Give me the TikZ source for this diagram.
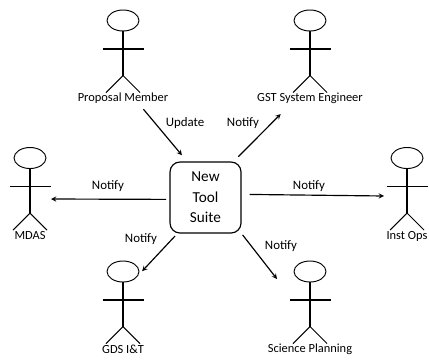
\documentclass[tikz,border=0pt]{standalone}
\usepackage{fontspec}
\setmainfont{Carlito}
\usetikzlibrary{shapes.geometric,arrows}
\tikzset{
    flow/.style={line width=1pt,-stealth},
    stick/.style={line width=0.9pt},
    actorhead/.style={draw,line width=0.8pt,ellipse,minimum width=0.96cm,minimum height=0.63cm,inner sep=0},
    actorname/.style={inner sep=0,font=\fontsize{10.6}{12}\selectfont},
    flowname/.style={inner sep=0,font=\fontsize{11}{12}\selectfont},
    toolbox/.style={draw,line width=1pt,rounded corners=0.3cm,minimum width=2.13cm,minimum height=2.13cm,align=center,font=\fontsize{13}{17.5}\selectfont}
}
\newcommand{\actor}[4]{
    \begin{scope}[shift = {(#2,#3)}]
        \node[actorhead] (#1head) at (0,0) {};
        \draw[stick] (#1head) to (0,55);
        \draw[stick] (-20.5,28.5) to (20.5,28.5);
        \draw[stick] (-17,72) to (0,55) to (17,72);
        \node[actorname] (#1name) at (0,78) {#4};
    \end{scope}
}

\begin{document}
\begin{tikzpicture}[x=0.03cm,y=-0.03cm]
        \useasboundingbox (0,0) rectangle (429,360);

        \node[toolbox] (suite) at (205.5,197.5) {New\\Tool\\Suite};

        \actor{proposal}{123}{20.5}{Proposal Member}
        \actor{gst}{310}{20.5}{GST System Engineer}
        \actor{mdas}{30}{158}{MDAS}
        \actor{inst}{407}{158}{Inst Ops}
        \actor{gds}{123}{271.5}{GDS I\&T}
        \actor{science}{310}{271.5}{Science Planning}

        \coordinate (mdasin) at (51,199);
        \coordinate (instin) at (384,196);
        \coordinate (sciencein) at (277,279);

        \draw[flow,shorten <=0.2cm,shorten >=0.24cm] (proposalname.341) to (suite.117.5);
        \draw[flow,shorten <=0.2cm,shorten >=0.42cm] (suite.52) to (gstname.196);
        \draw[flow,shorten <=0.1cm] (suite.183) to (mdasin);
        \draw[flow,shorten <=0.24cm] (suite.5.8) to (instin);
        \draw[flow,shorten <=0.1cm,shorten >=0.15cm] (suite.232) to (gdshead.-12);
        \draw[flow,shorten <=0.05cm] (suite.south east) to (sciencein);

        \node[flowname] (update) at (185,123) {Update};
        \node[flowname] (notifygst) at (243,123) {Notify};
        \node[flowname] (notifymdas) at (108,186) {Notify};
        \node[flowname] (notifyinst) at (309,186) {Notify};
        \node[flowname] (notifygds) at (141,239) {Notify};
        \node[flowname] (notifyscience) at (281,246) {Notify};
\end{tikzpicture}
\end{document}
